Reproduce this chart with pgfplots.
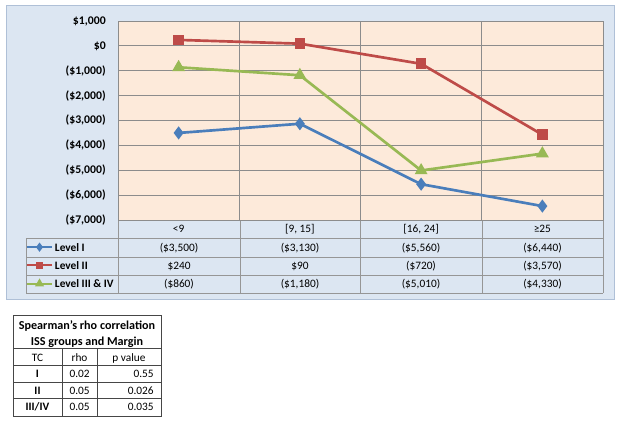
\documentclass[border=0pt]{standalone}
\usepackage{pgfplots}
\pgfplotsset{compat=1.18}
\usepackage{fontspec}
\setmainfont{Carlito}
\definecolor{outerbg}{RGB}{220,230,242}
\definecolor{outerborder}{RGB}{175,192,215}
\definecolor{plotbg}{RGB}{253,234,218}
\definecolor{gridc}{RGB}{140,140,140}
\definecolor{tableline}{RGB}{150,150,150}
\definecolor{smallline}{RGB}{70,70,70}
\definecolor{lvlone}{RGB}{74,126,187}
\definecolor{lvltwo}{RGB}{190,75,72}
\definecolor{lvlthree}{RGB}{152,185,84}
\newcommand\tf{\fontsize{8.5pt}{10pt}\selectfont}
\newcommand\yf{\fontsize{8.8pt}{10pt}\selectfont\bfseries}
\newcommand\ttf{\fontsize{9.1pt}{11pt}\selectfont}
\begin{document}
\begin{tikzpicture}
\begin{scope}[x=0.75pt,y=-0.75pt]
\fill[white] (0,0) rectangle (621,422);
\filldraw[fill=outerbg, draw=outerborder, line width=0.75pt] (6,5) rectangle (614,299);
% data table grid
\draw[tableline, line width=0.75pt]
  (26,238) -- (603,238)
  (26,257) -- (603,257)
  (26,275) -- (603,275)
  (26,293) -- (603,293)
  (26,238) -- (26,293)
  (118,220) -- (118,293)
  (240,220) -- (240,293)
  (360,220) -- (360,293)
  (482,220) -- (482,293)
  (603,220) -- (603,293);
% data table values
\begin{scope}[every node/.style={font=\tf, anchor=base, inner sep=0pt}]
\node at (179,251.2) {(\$3,500)};
\node at (300,251.2) {(\$3,130)};
\node at (421,251.2) {(\$5,560)};
\node at (542.5,251.2) {(\$6,440)};
\node at (179,269.7) {\$240};
\node at (300,269.7) {\$90};
\node at (421,269.7) {(\$720)};
\node at (542.5,269.7) {(\$3,570)};
\node at (179,287.9) {(\$860)};
\node at (300,287.9) {(\$1,180)};
\node at (421,287.9) {(\$5,010)};
\node at (542.5,287.9) {(\$4,330)};
\end{scope}
% small table
\draw[smallline, line width=0.75pt]
  (13,315) rectangle (161,416)
  (13,348) -- (161,348)
  (13,365) -- (161,365)
  (13,382) -- (161,382)
  (13,398) -- (161,398)
  (62,348) -- (62,416)
  (97,348) -- (97,416);
\begin{scope}[every node/.style={font=\ttf, anchor=base, inner sep=0pt}]
\node[font=\ttf\bfseries] at (87,329) {Spearman's rho correlation};
\node[font=\ttf\bfseries] at (87,345) {ISS groups and Margin};
\node[font=\tf] at (37.5,361) {TC};
\node[font=\tf] at (79.5,361) {rho};
\node[font=\tf] at (129,361) {p value};
\node[font=\tf\bfseries] at (37.5,377.5) {I};
\node[font=\tf\bfseries] at (37.5,394) {II};
\node[font=\tf\bfseries] at (37.5,410.5) {III/IV};
\node[font=\tf, anchor=base east] at (90,377.5) {0.02};
\node[font=\tf, anchor=base east] at (90,394) {0.05};
\node[font=\tf, anchor=base east] at (90,410.5) {0.05};
\node[font=\tf, anchor=base east] at (154,377.5) {0.55};
\node[font=\tf, anchor=base east] at (154,394) {0.026};
\node[font=\tf, anchor=base east] at (154,410.5) {0.035};
\end{scope}
\end{scope}
\begin{axis}[
  at={(88.5pt,-165pt)}, anchor=south west,
  scale only axis, width=363.75pt, height=149.25pt,
  xmin=-0.5, xmax=3.5, ymin=-7000, ymax=1000,
  xtick={0,1,2,3},
  xticklabels={{<9},{{}[9, 15]},{{}[16, 24]},{≥25}},
  minor xtick={0.5,1.5,2.5}, xminorgrids,
  ytick={-7000,-6000,...,1000},
  yticklabels={{(\$7,000)},{(\$6,000)},{(\$5,000)},{(\$4,000)},{(\$3,000)},{(\$2,000)},{(\$1,000)},{\$0},{\$1,000}},
  ymajorgrids,
  major tick length=0pt, minor tick length=0pt,
  grid style={gridc, line width=0.75pt},
  minor grid style={gridc, line width=0.75pt},
  axis line style={gridc, line width=0.75pt},
  axis background/.style={fill=plotbg},
  yticklabel style={font=\yf, anchor=east, inner sep=0pt, xshift=-9pt},
  xticklabel style={font=\tf, anchor=base, inner sep=0pt, yshift=-9.5pt},
  clip=false,
  legend cell align=left,
  legend style={at={(-0.1897,-0.0905)}, anchor=north west, draw=none, fill=none,
    inner sep=0pt, outer sep=0pt, font=\tf\bfseries, row sep=0pt, column sep=1.5pt,
    nodes={inner sep=0pt, text height=9.75pt, text depth=3.95pt}},
  legend image code/.code={
    \draw[#1, mark repeat=2, mark phase=2] plot coordinates {(0pt,0pt) (9.4pt,0pt) (18.75pt,0pt)};
  },
  legend image post style={line width=1.5pt, every mark/.append style={scale=0.68}},
]
\addplot[lvlone, line width=2pt, mark=diamond*, mark size=3.3pt, mark options={solid, fill=lvlone}]
  coordinates {(0,-3500) (1,-3130) (2,-5560) (3,-6440)};
\addlegendentry{Level I}
\addplot[lvltwo, line width=2pt, mark=square*, mark size=3pt, mark options={solid, fill=lvltwo}]
  coordinates {(0,240) (1,90) (2,-720) (3,-3570)};
\addlegendentry{Level II}
\addplot[lvlthree, line width=2pt, mark=triangle*, mark size=3.6pt, mark options={solid, fill=lvlthree}]
  coordinates {(0,-860) (1,-1180) (2,-5010) (3,-4330)};
\addlegendentry{Level III \& IV}
\end{axis}
\end{tikzpicture}
\end{document}
